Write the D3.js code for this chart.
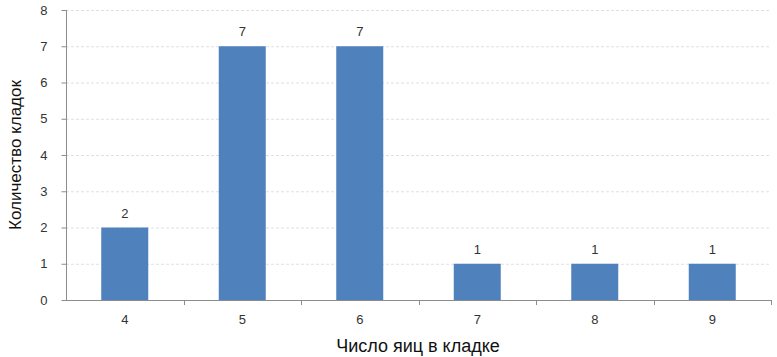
<!DOCTYPE html>
<html><head><meta charset="utf-8">
<script src="https://cdn.jsdelivr.net/npm/d3@7"></script>
<style>body{margin:0;background:#fff}svg{display:block}</style>
</head><body>
<script>
const categories = ["4","5","6","7","8","9"];
const values = [2,7,7,1,1,1];
const yTicks = [0,1,2,3,4,5,6,7,8];
const xTitle = "Число яиц в кладке";
const yTitle = "Количество кладок";

const W = 777, H = 357;
const m = {left:66, right:6, top:10, bottom:57};
const svg = d3.select("body").append("svg").attr("width",W).attr("height",H);
const x = d3.scaleBand().domain(categories).range([m.left, W-m.right]).paddingInner(0.6).paddingOuter(0.3);
const xb = d3.scaleBand().domain(categories).range([m.left, W-m.right]);
const y = d3.scaleLinear().domain([0,8]).range([H-m.bottom, m.top]);
const font = "'Liberation Sans', Arial, sans-serif";

// gridlines
svg.append("g").selectAll("line").data(yTicks.filter(d=>d>0)).join("line")
  .attr("x1", m.left).attr("x2", W-m.right)
  .attr("y1", d=>y(d)+0.5).attr("y2", d=>y(d)+0.5)
  .attr("stroke","#e0e0e0").attr("stroke-dasharray","3,2");

// bars
svg.append("g").selectAll("rect").data(values).join("rect")
  .attr("x",(d,i)=>x(categories[i])).attr("width",x.bandwidth())
  .attr("y",d=>y(d)).attr("height",d=>y(0)-y(d)).attr("fill","#4F81BD");

// labels
svg.append("g").selectAll("text").data(values).join("text")
  .attr("x",(d,i)=>x(categories[i])+x.bandwidth()/2).attr("y",d=>y(d)-10)
  .attr("text-anchor","middle").attr("font-family",font).attr("font-size",13).attr("fill","#333")
  .text(d=>d);

// y axis
const ya = svg.append("g").attr("transform",`translate(${m.left+0.5},0)`)
  .call(d3.axisLeft(y).tickValues(yTicks).tickSize(5).tickPadding(14));
ya.select(".domain").attr("stroke","#8c8c8c").attr("d",`M-0,${y(8)}V${y(0)}`);
ya.selectAll(".tick line").attr("stroke","#8c8c8c");
ya.selectAll(".tick text").attr("font-family",font).attr("font-size",13).attr("fill","#333");

// x axis
const xa = svg.append("g").attr("transform",`translate(0,${y(0)+0.5})`)
  .call(d3.axisBottom(x).tickSize(0).tickPadding(14));
xa.select(".domain").attr("stroke","#8c8c8c").attr("d",`M${m.left},0H${W-m.right}`);
xa.selectAll(".tick text").attr("font-family",font).attr("font-size",13).attr("fill","#333");
// boundary ticks
svg.append("g").selectAll("line").data(categories.map(c=>xb(c)+xb.bandwidth())).join("line")
  .attr("x1",d=>Math.round(d)+0.5).attr("x2",d=>Math.round(d)+0.5)
  .attr("y1",y(0)).attr("y2",y(0)+5).attr("stroke","#8c8c8c");

// titles
svg.append("text").attr("x",418).attr("y",352).attr("text-anchor","middle")
  .attr("font-family",font).attr("font-size",18).attr("fill","#111").text(xTitle);
svg.append("text").attr("transform",`translate(21,${(y(0)+y(8))/2}) rotate(-90)`).attr("text-anchor","middle")
  .attr("font-family",font).attr("font-size",17).attr("fill","#111").text(yTitle);
</script>
</body></html>
